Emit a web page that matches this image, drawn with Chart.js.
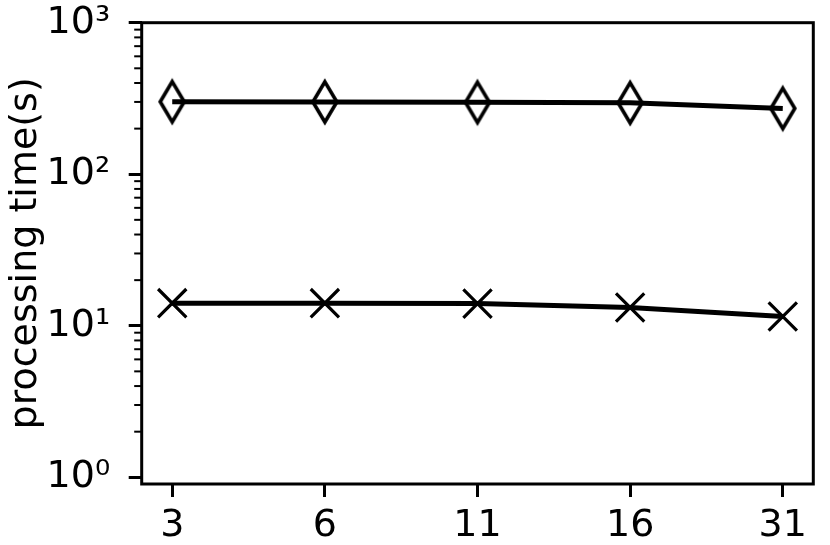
<!DOCTYPE html>
<html><head><meta charset="utf-8">
<script src="https://cdn.jsdelivr.net/npm/chart.js@4/dist/chart.umd.min.js"></script>
<style>html,body{margin:0;padding:0;background:#fff;} canvas{display:block;}</style>
</head><body>
<canvas id="c" width="830" height="545"></canvas>
<script>
// ---- data ----
const categories = ['3', '6', '11', '16', '31'];
const diamondTimes = [301, 300, 298, 296, 272];
const crossTimes = [14.1, 14.1, 14.0, 13.2, 11.5];
const yMajorValues = [1, 10, 100, 1000];
const yTickLabels = ['10⁰', '10¹', '10²', '10³'];
const yAxisTitle = 'processing time(s)';

const FONT = {family: "'DejaVu Sans', sans-serif", size: 38};

function thinDiamond() {
  const c = document.createElement('canvas');
  c.width = 34; c.height = 54;
  const g = c.getContext('2d');
  g.strokeStyle = '#000'; g.lineWidth = 3.6; g.lineJoin = 'miter'; g.miterLimit = 10;
  g.beginPath();
  g.moveTo(17, 27 - 20.2); g.lineTo(17 + 12, 27); g.lineTo(17, 27 + 20.2); g.lineTo(17 - 12, 27);
  g.closePath(); g.stroke();
  return c;
}

const framePlugin = {
  id: 'frame',
  afterDraw(chart) {
    const {ctx, chartArea: a} = chart;
    const y = chart.scales.y;
    ctx.save();
    ctx.strokeStyle = '#000';
    ctx.lineWidth = 2;
    for (let e = -1; e < 3; e++) {
      for (let m = 2; m <= 9; m++) {
        const v = m * Math.pow(10, e);
        if (v < y.min || v > y.max) continue;
        const py = y.getPixelForValue(v);
        ctx.beginPath(); ctx.moveTo(a.left - 7.5, py); ctx.lineTo(a.left, py); ctx.stroke();
      }
    }
    ctx.lineWidth = 3;
    ctx.strokeRect(a.left, a.top, a.right - a.left, a.bottom - a.top);
    ctx.restore();
  }
};

const tickGrid = {display: true, drawOnChartArea: false, drawTicks: true, tickLength: 13, tickWidth: 3, tickColor: '#000', color: '#000'};

new Chart(document.getElementById('c'), {
  type: 'line',
  data: {
    datasets: [
      {
        data: diamondTimes.map((v, i) => ({x: i, y: v})),
        borderColor: '#000', borderWidth: 5, tension: 0, fill: false,
        pointStyle: thinDiamond(), pointRadius: 20,
        pointBorderColor: '#000', pointBackgroundColor: 'rgba(0,0,0,0)'
      },
      {
        data: crossTimes.map((v, i) => ({x: i, y: v})),
        borderColor: '#000', borderWidth: 5, tension: 0, fill: false,
        pointStyle: 'crossRot', pointRadius: 20, pointBorderWidth: 3.2,
        pointBorderColor: '#000', pointBackgroundColor: 'rgba(0,0,0,0)'
      }
    ]
  },
  options: {
    responsive: false, animation: false, devicePixelRatio: 1, events: [],
    layout: {autoPadding: false, padding: {top: 22.7, right: 16.7, left: 0, bottom: 0}},
    plugins: {legend: {display: false}, tooltip: {enabled: false}},
    scales: {
      x: {
        type: 'linear', min: -0.2, max: 4.2,
        afterBuildTicks: s => { s.ticks = categories.map((c, i) => ({value: i})); },
        afterFit: s => { s.height = 61; s.paddingLeft = 0; s.paddingRight = 0; s.paddingTop = 0; s.paddingBottom = 0; },
        grid: tickGrid,
        border: {display: false},
        ticks: {font: FONT, color: '#000', padding: 6, maxRotation: 0, autoSkip: false,
                callback: (v, i) => categories[i]}
      },
      y: {
        type: 'logarithmic', min: 0.903, max: 1000,
        afterBuildTicks: s => { s.ticks = yMajorValues.map(v => ({value: v})); },
        afterFit: s => { s.width = 141.7; s.paddingLeft = 0; s.paddingRight = 0; s.paddingTop = 0; s.paddingBottom = 0; },
        grid: tickGrid,
        border: {display: false},
        ticks: {font: FONT, color: '#000', padding: 18.5, autoSkip: false,
                callback: (v, i) => yTickLabels[i]},
        title: {display: true, text: yAxisTitle, font: FONT, color: '#000', padding: {top: 3, bottom: 0}}
      }
    }
  },
  plugins: [framePlugin]
});
</script>
</body></html>
